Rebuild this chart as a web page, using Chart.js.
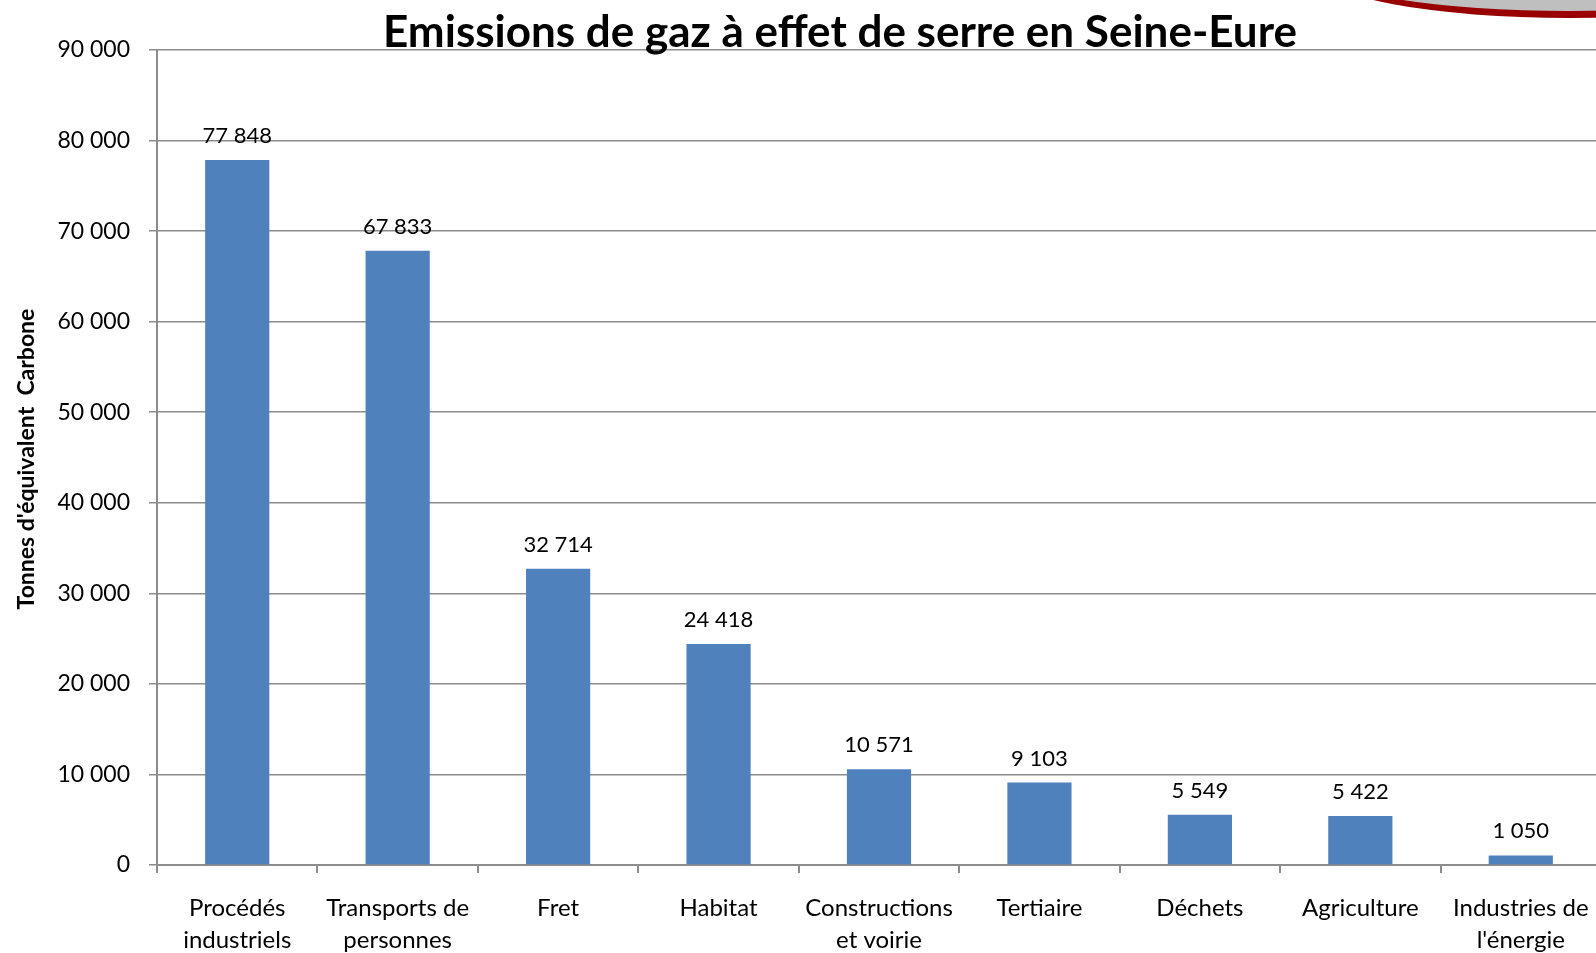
<!DOCTYPE html>
<html>
<head>
<meta charset="utf-8">
<script src="https://cdn.jsdelivr.net/npm/chart.js@4/dist/chart.umd.min.js"></script>
<style>
  html, body { margin: 0; padding: 0; background: #fff; overflow: hidden; }
  #wrap { position: relative; width: 1596px; height: 953px; overflow: hidden; }
  #cvs { position: absolute; left: 0; top: 0; }
  /* slide decoration, top right */
  .arc {
    position: absolute; left: 1320px; top: -76px; width: 500px; height: 94px;
    box-sizing: border-box; border: 7px solid #990000; border-radius: 50%;
    background: #bfbfbf;
  }
</style>
</head>
<body>
<div id="wrap">
  <!-- canvas a little wider than the page: the plot runs past the right edge, as in the slide -->
  <canvas id="cvs" width="1601" height="953"></canvas>
  <div class="arc"></div>
</div>
<script>
/* data */
const categories = [
  ['Procédés', 'industriels'],
  ['Transports de', 'personnes'],
  'Fret',
  'Habitat',
  ['Constructions', 'et voirie'],
  'Tertiaire',
  'Déchets',
  'Agriculture',
  ['Industries de', "l'énergie"]
];
const emissions = [77848, 67833, 32714, 24418, 10571, 9103, 5549, 5422, 1050];
const yMax = 90000;
const yStep = 10000;

const titleText = 'Emissions de gaz à effet de serre en Seine-Eure';
const yTitle = "Tonnes d'équivalent  Carbone";

/* helpers */
const fmt = n => String(n).replace(/\B(?=(\d{3})+(?!\d))/g, ' ');
const FONT = 'Lato, "Open Sans", sans-serif';
const GRID = '#8c8c8c';

const textPlugin = {
  id: 'texts',
  afterDatasetsDraw(chart) {
    const ctx = chart.ctx;
    const meta = chart.getDatasetMeta(0);
    ctx.save();
    ctx.fillStyle = '#000';
    ctx.textAlign = 'center';
    ctx.textBaseline = 'alphabetic';

    // value labels above bars
    ctx.font = '22px ' + FONT;
    meta.data.forEach((bar, i) => {
      ctx.fillText(fmt(emissions[i]), bar.x, bar.y - 17);
    });

    // chart title
    ctx.font = 'bold 44px ' + FONT;
    ctx.fillText(titleText, 840, 47, 923);

    // y axis title
    ctx.translate(27, 459);
    ctx.rotate(-Math.PI / 2);
    ctx.textBaseline = 'middle';
    ctx.font = 'bold 23px ' + FONT;
    ctx.fillText(yTitle, 0, 0, 318);
    ctx.restore();
  }
};

new Chart(document.getElementById('cvs'), {
  type: 'bar',
  data: {
    labels: categories,
    datasets: [{
      data: emissions,
      backgroundColor: '#4f81bd',
      borderWidth: 0,
      barPercentage: 0.8,
      categoryPercentage: 0.5
    }]
  },
  options: {
    responsive: false,
    animation: false,
    devicePixelRatio: 1,
    layout: { padding: { top: 50, right: 0, bottom: 0, left: 0 } },
    plugins: { legend: { display: false }, tooltip: { enabled: false } },
    scales: {
      x: {
        afterFit: s => { s.height = 88; s.paddingLeft = 0; s.paddingRight = 0; },
        grid: { drawOnChartArea: false, drawTicks: true, tickLength: 8, color: GRID, lineWidth: 2 },
        border: { color: GRID, width: 2 },
        ticks: {
          color: '#000', font: { family: FONT, size: 24, lineHeight: 1.3 },
          padding: 20, maxRotation: 0, autoSkip: false
        }
      },
      y: {
        min: 0, max: yMax,
        afterFit: s => { s.width = 157; },
        grid: { color: GRID, lineWidth: 1.5, tickLength: 8 },
        border: { color: GRID, width: 2 },
        ticks: {
          stepSize: yStep, color: '#000', padding: 19,
          font: { family: FONT, size: 23 },
          callback: v => fmt(v)
        }
      }
    }
  },
  plugins: [textPlugin]
});
</script>
</body>
</html>
